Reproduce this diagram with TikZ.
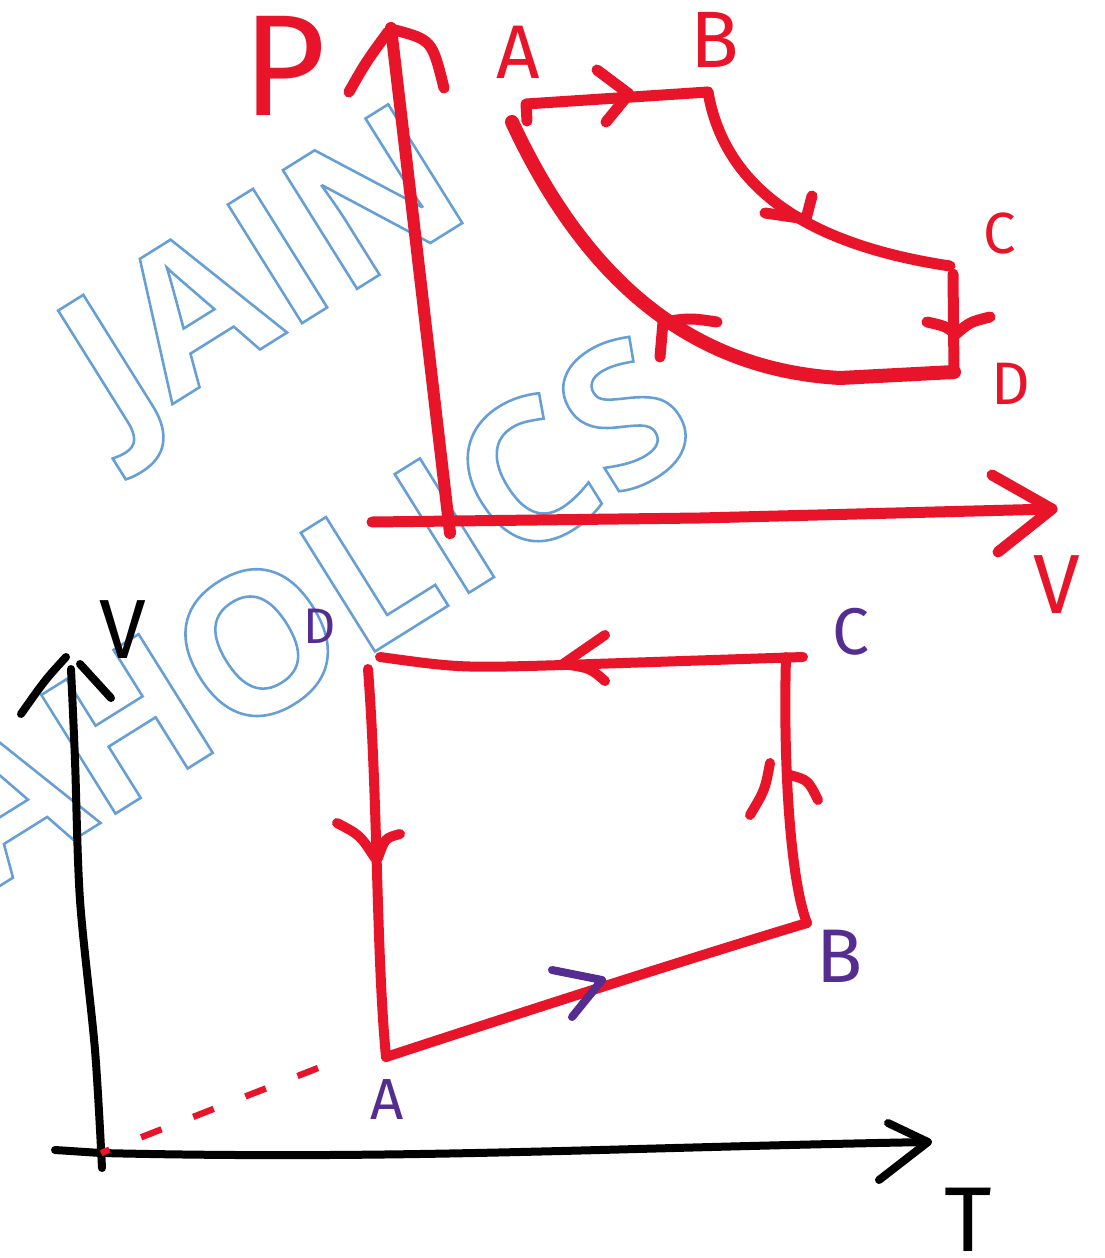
\documentclass[tikz,border=0pt]{standalone}
\usepackage{fontspec}
\setmainfont{Fira Sans}
\newfontfamily\wmfont{Open Sans Bold}[FakeBold=1.3]
\definecolor{pen}{HTML}{E8152A}
\definecolor{ink}{HTML}{552D91}
\newcommand{\wmtext}[1]{\special{pdf:bcolor [1 1 1] [0.40 0.62 0.84]}#1\special{pdf:ecolor}}
\tikzset{
  redline/.style={draw=pen,line width=5.5pt,line cap=round,line join=round},
  dashred/.style={draw=pen,line width=3.2pt,line cap=butt,dash pattern=on 11pt off 17pt},
  blackline/.style={draw=black,line width=4pt,line cap=round,line join=round},
  purpleline/.style={draw=ink,line width=4pt,line cap=round,line join=round},
  redlabel/.style={text=pen,inner sep=0pt},
  inklabel/.style={text=ink,inner sep=0pt},
  blacklabel/.style={text=black,inner sep=0pt},
  watermark/.style={font=\wmfont\fontsize{98}{98}\selectfont,inner sep=0pt,rotate=32}
}
\newcommand{\fsz}[1]{\fontsize{#1}{#1}\selectfont}

\begin{document}
\begin{tikzpicture}[x=0.5pt,y=-0.5pt]
\fill[white] (0,0) rectangle (1104,1258);
\useasboundingbox (0,0) rectangle (1104,1258);

\node[watermark] (wmJain) at (271,284) {\wmtext{JAIN}};
\node[watermark] (wmAholics) at (309,610) {\wmtext{AHOLICS}};

% P-V diagram
\coordinate (pTop) at (391,28);
\coordinate (pBot) at (450,533);
\coordinate (vLeft) at (372,522);
\coordinate (vRight) at (1052,509);
\draw[redline,line width=6pt] (pBot) -- (pTop);
\draw[redline] (349,92) .. controls (366,62) .. (388,32);
\draw[redline] (395,30) .. controls (432,40) .. (444,88);
\draw[redline] (vLeft) -- (700,518) -- (vRight);
\draw[redline] (992,475) -- (vRight) -- (998,552);

\coordinate (pvA) at (526,104);
\coordinate (pvB) at (708,92);
\coordinate (pvC) at (950,266);
\coordinate (pvD) at (954,372);
\coordinate (pvE) at (512,122);
\draw[redline] (527,121) -- (pvA) -- (pvB);
\draw[redline] (597,70) -- (629,94) -- (606,122);
\draw[redline] (pvB) .. controls (725,190) and (810,245) .. (pvC);
\draw[redline] (765,213) -- (806,219) -- (812,196);
\draw[redline] (953,274) -- (pvD);
\draw[redline] (927,322) .. controls (945,326) .. (956,334) .. controls (970,322) .. (990,317);
\draw[redline,line width=7pt] (pvD) -- (840,378) .. controls (700,370) and (590,290) .. (pvE);
\draw[redline] (717,322) .. controls (690,318) .. (663,322) -- (660,357);

\node[redlabel,font=\fsz{72}] (lblP) at (284,66) {P};
\node[redlabel,font=\fsz{42}] (lblV) at (1057,585) {V};
\node[redlabel,font=\fsz{38}] (lblA) at (518,52) {A};
\node[redlabel,font=\fsz{40}] (lblB) at (715,40) {B};
\node[redlabel,font=\fsz{29}] (lblC) at (1000,234) {C};
\node[redlabel,font=\fsz{30}] (lblD) at (1011,384) {D};

% V-T diagram
\coordinate (tvO) at (101,1153);
\coordinate (vTop) at (71,669);
\coordinate (tRight) at (928,1142);
\draw[blackline] plot[smooth,tension=0.5] coordinates {(102,1168) (95,1050) (80,900) (75,760) (vTop)};
\draw[blackline] (21,714) .. controls (45,680) .. (66,657);
\draw[blackline] (80,664) -- (111,698);
\draw[blackline] (55,1150) -- (tvO) .. controls (400,1160) and (600,1148) .. (tRight);
\draw[blackline] (888,1123) -- (tRight) -- (879,1180);

\coordinate (tvA) at (386,1057);
\coordinate (tvB) at (807,923);
\coordinate (tvC) at (803,657);
\coordinate (tvD) at (368,669);
\draw[redline,line width=5pt] (tvA) .. controls (520,1013) and (700,955) .. (tvB);
\draw[purpleline] (552,970) -- (602,980) -- (572,1017);
\draw[redline,line width=5pt] (tvB) .. controls (790,880) and (783,760) .. (786,657);
\draw[redline,line width=5pt] (750,815) .. controls (765,790) .. (770,763);
\draw[redline,line width=5pt] (790,775) .. controls (808,780) .. (818,800);
\draw[redline,line width=5pt] (tvC) -- (563,665) .. controls (460,668) .. (380,657);
\draw[redline,line width=5pt] (605,635) -- (563,664) .. controls (590,668) .. (605,681);
\draw[redline,line width=5pt] (tvD) .. controls (378,800) and (376,950) .. (tvA);
\draw[redline,line width=5pt] (337,823) .. controls (360,835) .. (375,858);
\draw[redline,line width=5pt] (400,834) .. controls (385,838) .. (378,858);
\draw[dashred] (318,1068) -- (tvO);

\node[blacklabel,font=\fsz{42}] (lblVt) at (123,630) {V};
\node[blacklabel,font=\fsz{46}] (lblT) at (968,1220) {T};
\node[inklabel,font=\fsz{25}] (lblDt) at (320,626) {D};
\node[inklabel,font=\fsz{33}] (lblCt) at (851,632) {C};
\node[inklabel,font=\fsz{38}] (lblBt) at (840,956) {B};
\node[inklabel,font=\fsz{29}] (lblAt) at (387,1100) {A};
\end{tikzpicture}
\end{document}
